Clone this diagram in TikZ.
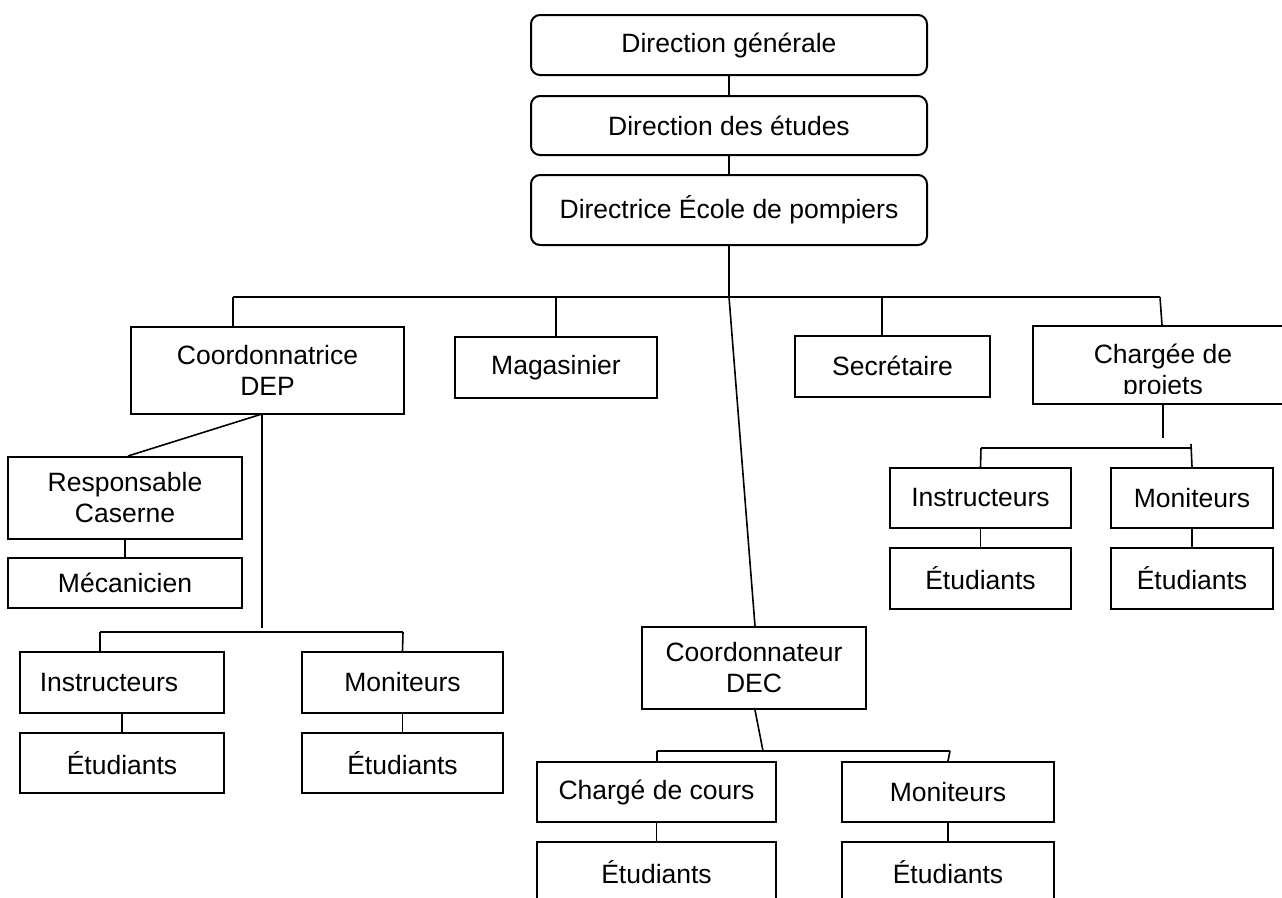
\documentclass[tikz,border=0pt]{standalone}
\usepackage{fontspec}
\setmainfont{Liberation Sans}
\usetikzlibrary{calc}
\begin{document}
\begin{tikzpicture}[x=1pt,y=-1pt,
  txt/.style={inner sep=0pt, align=center, font=\fontsize{26.5}{31}\selectfont},
  box/.style={txt, draw, line width=2pt},
  rbox/.style={box, rounded corners=9pt},
  sz/.style 2 args={minimum width=#1pt, minimum height=#2pt},
  conn/.style={line width=1.6pt}]
\useasboundingbox (0,0) rectangle (1282,897);
\clip (0,0) rectangle (1282,897);

% top chain
\node[rbox, sz={396}{60}] (dg) at (729,45) {Direction générale};
\node[rbox, sz={396}{59}] (de) at (729,125.5) {Direction des études};
\node[rbox, sz={396}{70}] (dir) at (729,210) {Directrice École de pompiers};
\draw[conn] (dg) -- (de);
\draw[conn] (de) -- (dir);

% bus level 1
\coordinate (b0) at (729,297);
\coordinate (bL) at (233,297);
\coordinate (bM) at (556,297);
\coordinate (bS) at (882,297);
\coordinate (bR) at (1160,297);

\node[box, sz={273}{87}] (cdep) at (267.5,370.5) {Coordonnatrice\\DEP};
\node[box, sz={202}{61}] (mag) at (556,367.5) {Magasinier};
\node[box, sz={195}{61}] (sec) at (892.5,366) {Secrétaire};
\node[draw, line width=2pt, sz={270}{78}] (cpj) at (1168,365) {};
\begin{scope}
\clip (1033,326) rectangle (1282,393);
\node[txt] (cpjt) at (1163,372) {Chargée de\\projets};
\end{scope}
\node[box, sz={224}{82}] (dec) at (754,668) {Coordonnateur\\DEC};

\draw[conn] (dir.south) -- (b0);
\draw[conn] (bL) -- (bR);
\draw[conn] (bL) -- (bL |- cdep.north);
\draw[conn] (bM) -- (mag.north);
\draw[conn] (bS) -- (bS |- sec.north);
\draw[conn] (bR) -- ([xshift=-6pt]cpj.north);
\draw[conn] (b0) -- ([xshift=1pt]dec.north);

% left branch
\node[box, sz={234}{82}] (resp) at (125,498) {Responsable\\Caserne};
\node[box, sz={234}{50}] (meca) at (125,583) {Mécanicien};
\coordinate (cdepS) at (262,414);
\coordinate (cdepE) at (262,628);
\draw[conn] (cdepS) -- ([xshift=3pt]resp.north);
\draw[conn] (cdepS) -- (cdepE);
\draw[conn] (resp) -- (meca);

\coordinate (lb1) at (100,632);
\coordinate (lb2) at (403,632);
\node[box, sz={204}{61}] (instrL) at (122,682.5) {Instructeurs\hspace*{26pt}};
\node[box, sz={204}{60}] (etL1) at (122,763) {Étudiants};
\node[box, sz={201}{61}] (monL) at (402.5,682.5) {Moniteurs};
\node[box, sz={201}{60}] (etL2) at (402.5,763) {Étudiants};
\draw[conn] (lb1) -- (lb2);
\draw[conn] (lb1) -- (lb1 |- instrL.north);
\draw[conn] (lb2) -- (monL.north);
\draw[conn] (instrL) -- (etL1);
\draw[conn] (monL) -- (etL2);

% right branch
\coordinate (cpjE) at (1163,438);
\draw[conn] (cpjt.south |- cpj.south) -- (cpjE);
\coordinate (rb1) at (981,448);
\coordinate (rb2) at (1191,448);
\coordinate (rbt) at (1191,444);
\node[box, sz={181}{60}] (instrR) at (980.5,498) {Instructeurs};
\node[box, sz={181}{61}] (etR1) at (980.5,578.5) {Étudiants};
\node[box, sz={162}{60}] (monR) at (1192,498) {Moniteurs};
\node[box, sz={162}{61}] (etR2) at (1192,578.5) {Étudiants};
\draw[conn] (rb1) -- (rb2);
\draw[conn] (rbt) -- (monR.north);
\draw[conn] (rb1) -- (instrR.north);
\draw[conn] (instrR) -- (etR1);
\draw[conn] (monR) -- (etR2);

% DEC branch
\coordinate (db0) at (763,751);
\coordinate (db1) at (657,751);
\coordinate (db2) at (950,751);
\node[box, sz={239}{60}] (chc) at (656.5,792) {Chargé de cours};
\node[box, sz={239}{60}] (etD1) at (656.5,872) {Étudiants};
\node[box, sz={212}{60}] (monD) at (948,792) {Moniteurs};
\node[box, sz={212}{60}] (etD2) at (948,872) {Étudiants};
\draw[conn] ([xshift=1pt]dec.south) -- (db0);
\draw[conn] (db1) -- (db2);
\draw[conn] (db1) -- (db1 |- chc.north);
\draw[conn] (db2) -- (monD.north);
\draw[conn] (chc) -- (etD1);
\draw[conn] (monD) -- (etD2);
\end{tikzpicture}
\end{document}
